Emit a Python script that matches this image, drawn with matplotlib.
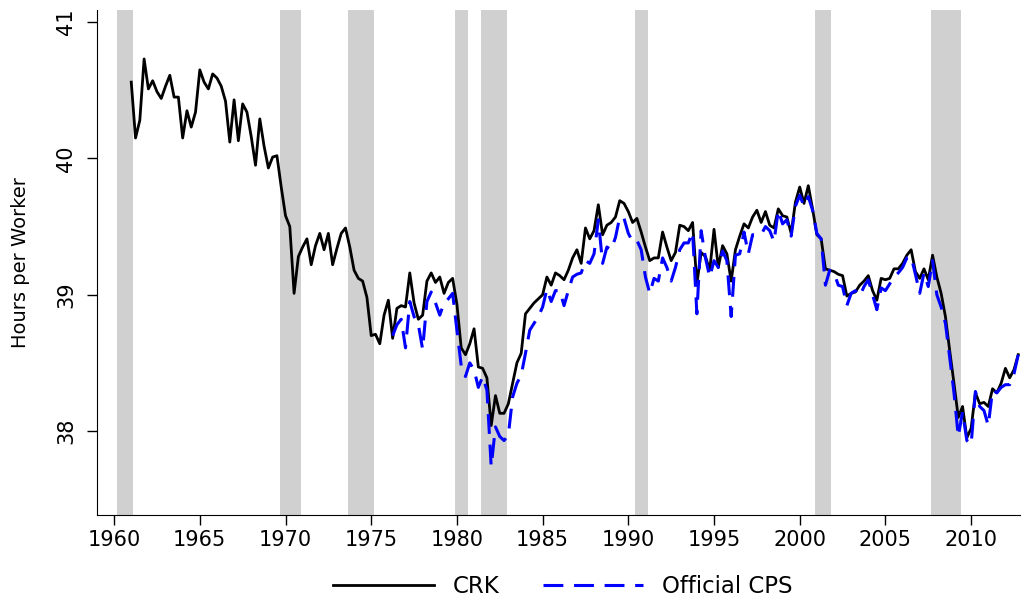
import numpy as np
import matplotlib
matplotlib.use("Agg")
import matplotlib.pyplot as plt

plt.rcParams['font.family'] = ['DejaVu Sans']

# quarterly series, CRK from 1961Q1, official CPS from 1976Q2
crk_start = 1961.0
crk = [
    40.56, 40.15, 40.28, 40.73,  # 1961
    40.51, 40.57, 40.49, 40.44,
    40.53, 40.61, 40.45, 40.45,
    40.15, 40.35, 40.23, 40.34,
    40.65, 40.56, 40.51, 40.62,  # 1965
    40.59, 40.53, 40.42, 40.12,
    40.43, 40.13, 40.40, 40.34,
    40.16, 39.95, 40.29, 40.09,
    39.93, 40.01, 40.02, 39.79,
    39.58, 39.50, 39.01, 39.28,  # 1970
    39.35, 39.41, 39.22, 39.36,
    39.45, 39.33, 39.45, 39.22,
    39.34, 39.45, 39.49, 39.35,
    39.18, 39.12, 39.10, 38.98,
    38.70, 38.71, 38.64, 38.85,  # 1975
    38.96, 38.68, 38.90, 38.92,
    38.91, 39.16, 38.94, 38.82,
    38.85, 39.10, 39.16, 39.09,
    39.13, 39.01, 39.09, 39.12,
    38.93, 38.61, 38.56, 38.64,  # 1980
    38.75, 38.47, 38.46, 38.39,
    38.04, 38.26, 38.13, 38.13,
    38.20, 38.35, 38.50, 38.57,
    38.86, 38.90, 38.94, 38.97,
    39.00, 39.13, 39.07, 39.16,  # 1985
    39.14, 39.11, 39.18, 39.27,
    39.33, 39.23, 39.49, 39.41,
    39.47, 39.66, 39.44, 39.51,
    39.53, 39.57, 39.69, 39.67,
    39.61, 39.53, 39.56, 39.46,  # 1990
    39.35, 39.25, 39.27, 39.27,
    39.46, 39.35, 39.25, 39.31,
    39.51, 39.50, 39.47, 39.53,
    39.08, 39.31, 39.28, 39.18,
    39.48, 39.20, 39.36, 39.30,  # 1995
    39.10, 39.33, 39.43, 39.52,
    39.49, 39.57, 39.62, 39.53,
    39.61, 39.51, 39.49, 39.63,
    39.58, 39.57, 39.45, 39.68,
    39.79, 39.67, 39.80, 39.63,  # 2000
    39.44, 39.41, 39.19, 39.18,
    39.17, 39.15, 39.14, 38.99,
    39.01, 39.02, 39.07, 39.10,
    39.14, 39.03, 38.96, 39.12,
    39.11, 39.12, 39.19, 39.19,  # 2005
    39.23, 39.29, 39.33, 39.17,
    39.12, 39.19, 39.11, 39.29,
    39.13, 39.01, 38.84, 38.59,
    38.35, 38.10, 38.18, 37.95,
    38.02, 38.28, 38.20, 38.21,  # 2010
    38.18, 38.31, 38.28, 38.35,
    38.46, 38.39, 38.45, 38.56,
]

cps_start = 1976.25
cps = [
    38.70, 38.78, 38.82,         # 1976
    38.61, 38.95, 38.84, 38.78,
    38.60, 38.95, 39.02, 38.94,
    38.85, 38.94, 38.97, 39.01,
    38.74, 38.48, 38.40, 38.50,  # 1980
    38.45, 38.32, 38.40, 38.30,
    37.74, 38.03, 37.96, 37.93,
    37.97, 38.25, 38.35, 38.41,
    38.57, 38.74, 38.79, 38.84,
    38.91, 39.04, 38.95, 39.03,  # 1985
    39.03, 38.92, 39.03, 39.13,
    39.15, 39.16, 39.25, 39.23,
    39.30, 39.55, 39.23, 39.35,
    39.33, 39.42, 39.57, 39.56,
    39.45, 39.39, 39.40, 39.33,  # 1990
    39.13, 39.01, 39.12, 39.10,
    39.27, 39.20, 39.10, 39.20,
    39.33, 39.38, 39.38, 39.46,
    38.86, 39.47, 39.27, 39.13,
    39.25, 39.20, 39.32, 39.25,  # 1995
    38.84, 39.29, 39.30, 39.46,
    39.30, 39.44, 39.44, 39.44,
    39.50, 39.47, 39.39, 39.62,
    39.52, 39.55, 39.43, 39.65,
    39.73, 39.65, 39.72, 39.62,  # 2000
    39.45, 39.41, 39.07, 39.18,
    39.16, 39.07, 39.06, 38.92,
    39.01, 39.03, 38.99, 39.06,
    39.11, 39.00, 38.89, 39.05,
    39.03, 39.08, 39.13, 39.16,  # 2005
    39.20, 39.27, 39.28, 39.15,
    39.01, 39.16, 39.06, 39.25,
    39.00, 38.91, 38.79, 38.54,
    38.28, 37.96, 38.14, 37.93,
    37.90, 38.29, 38.18, 38.15,  # 2010
    38.04, 38.30, 38.28, 38.32,
    38.34, 38.34, 38.42, 38.56,
]

recessions = [(1960.15, 1961.1), (1969.65, 1970.9), (1973.65, 1975.15),
              (1979.9, 1980.65), (1981.4, 1982.9), (1990.4, 1991.15),
              (2000.9, 2001.85), (2007.65, 2009.4)]

t_crk = crk_start + 0.25 * np.arange(len(crk))
t_cps = cps_start + 0.25 * np.arange(len(cps))

fig = plt.figure(figsize=(10.25, 5.97), dpi=100)
ax = fig.add_axes([0.0946, 0.1374, 0.9005, 0.8456])

for a, b in recessions:
    ax.axvspan(a, b, color='#d0d0d0', lw=0, zorder=0)

ax.plot(t_crk, crk, color='black', lw=2.0, label='CRK', zorder=2)
ax.plot(t_cps, cps, color='#0000ff', lw=2.2, dashes=(6.5, 3.5),
        label='Official CPS', zorder=3)

ax.set_xlim(1959.0, 2012.85)
ax.set_ylim(37.384, 41.088)
ax.set_xticks(np.arange(1960, 2011, 5))
ax.set_yticks([38, 39, 40, 41])
ax.spines['top'].set_visible(False)
ax.spines['right'].set_visible(False)
ax.tick_params(axis='both', direction='out', length=7, width=1, labelsize=15)
ax.tick_params(axis='y', pad=8)
for lab in ax.get_yticklabels():
    lab.set_rotation(90)
    lab.set_va('center')
ax.set_ylabel('Hours per Worker', fontsize=14, labelpad=19)

fig.legend(loc='lower center', bbox_to_anchor=(0.549, -0.036), ncol=2,
           frameon=False, fontsize=16.5, handlelength=4.4, handletextpad=0.8,
           columnspacing=1.9)

fig.savefig('out.png', dpi=100)
